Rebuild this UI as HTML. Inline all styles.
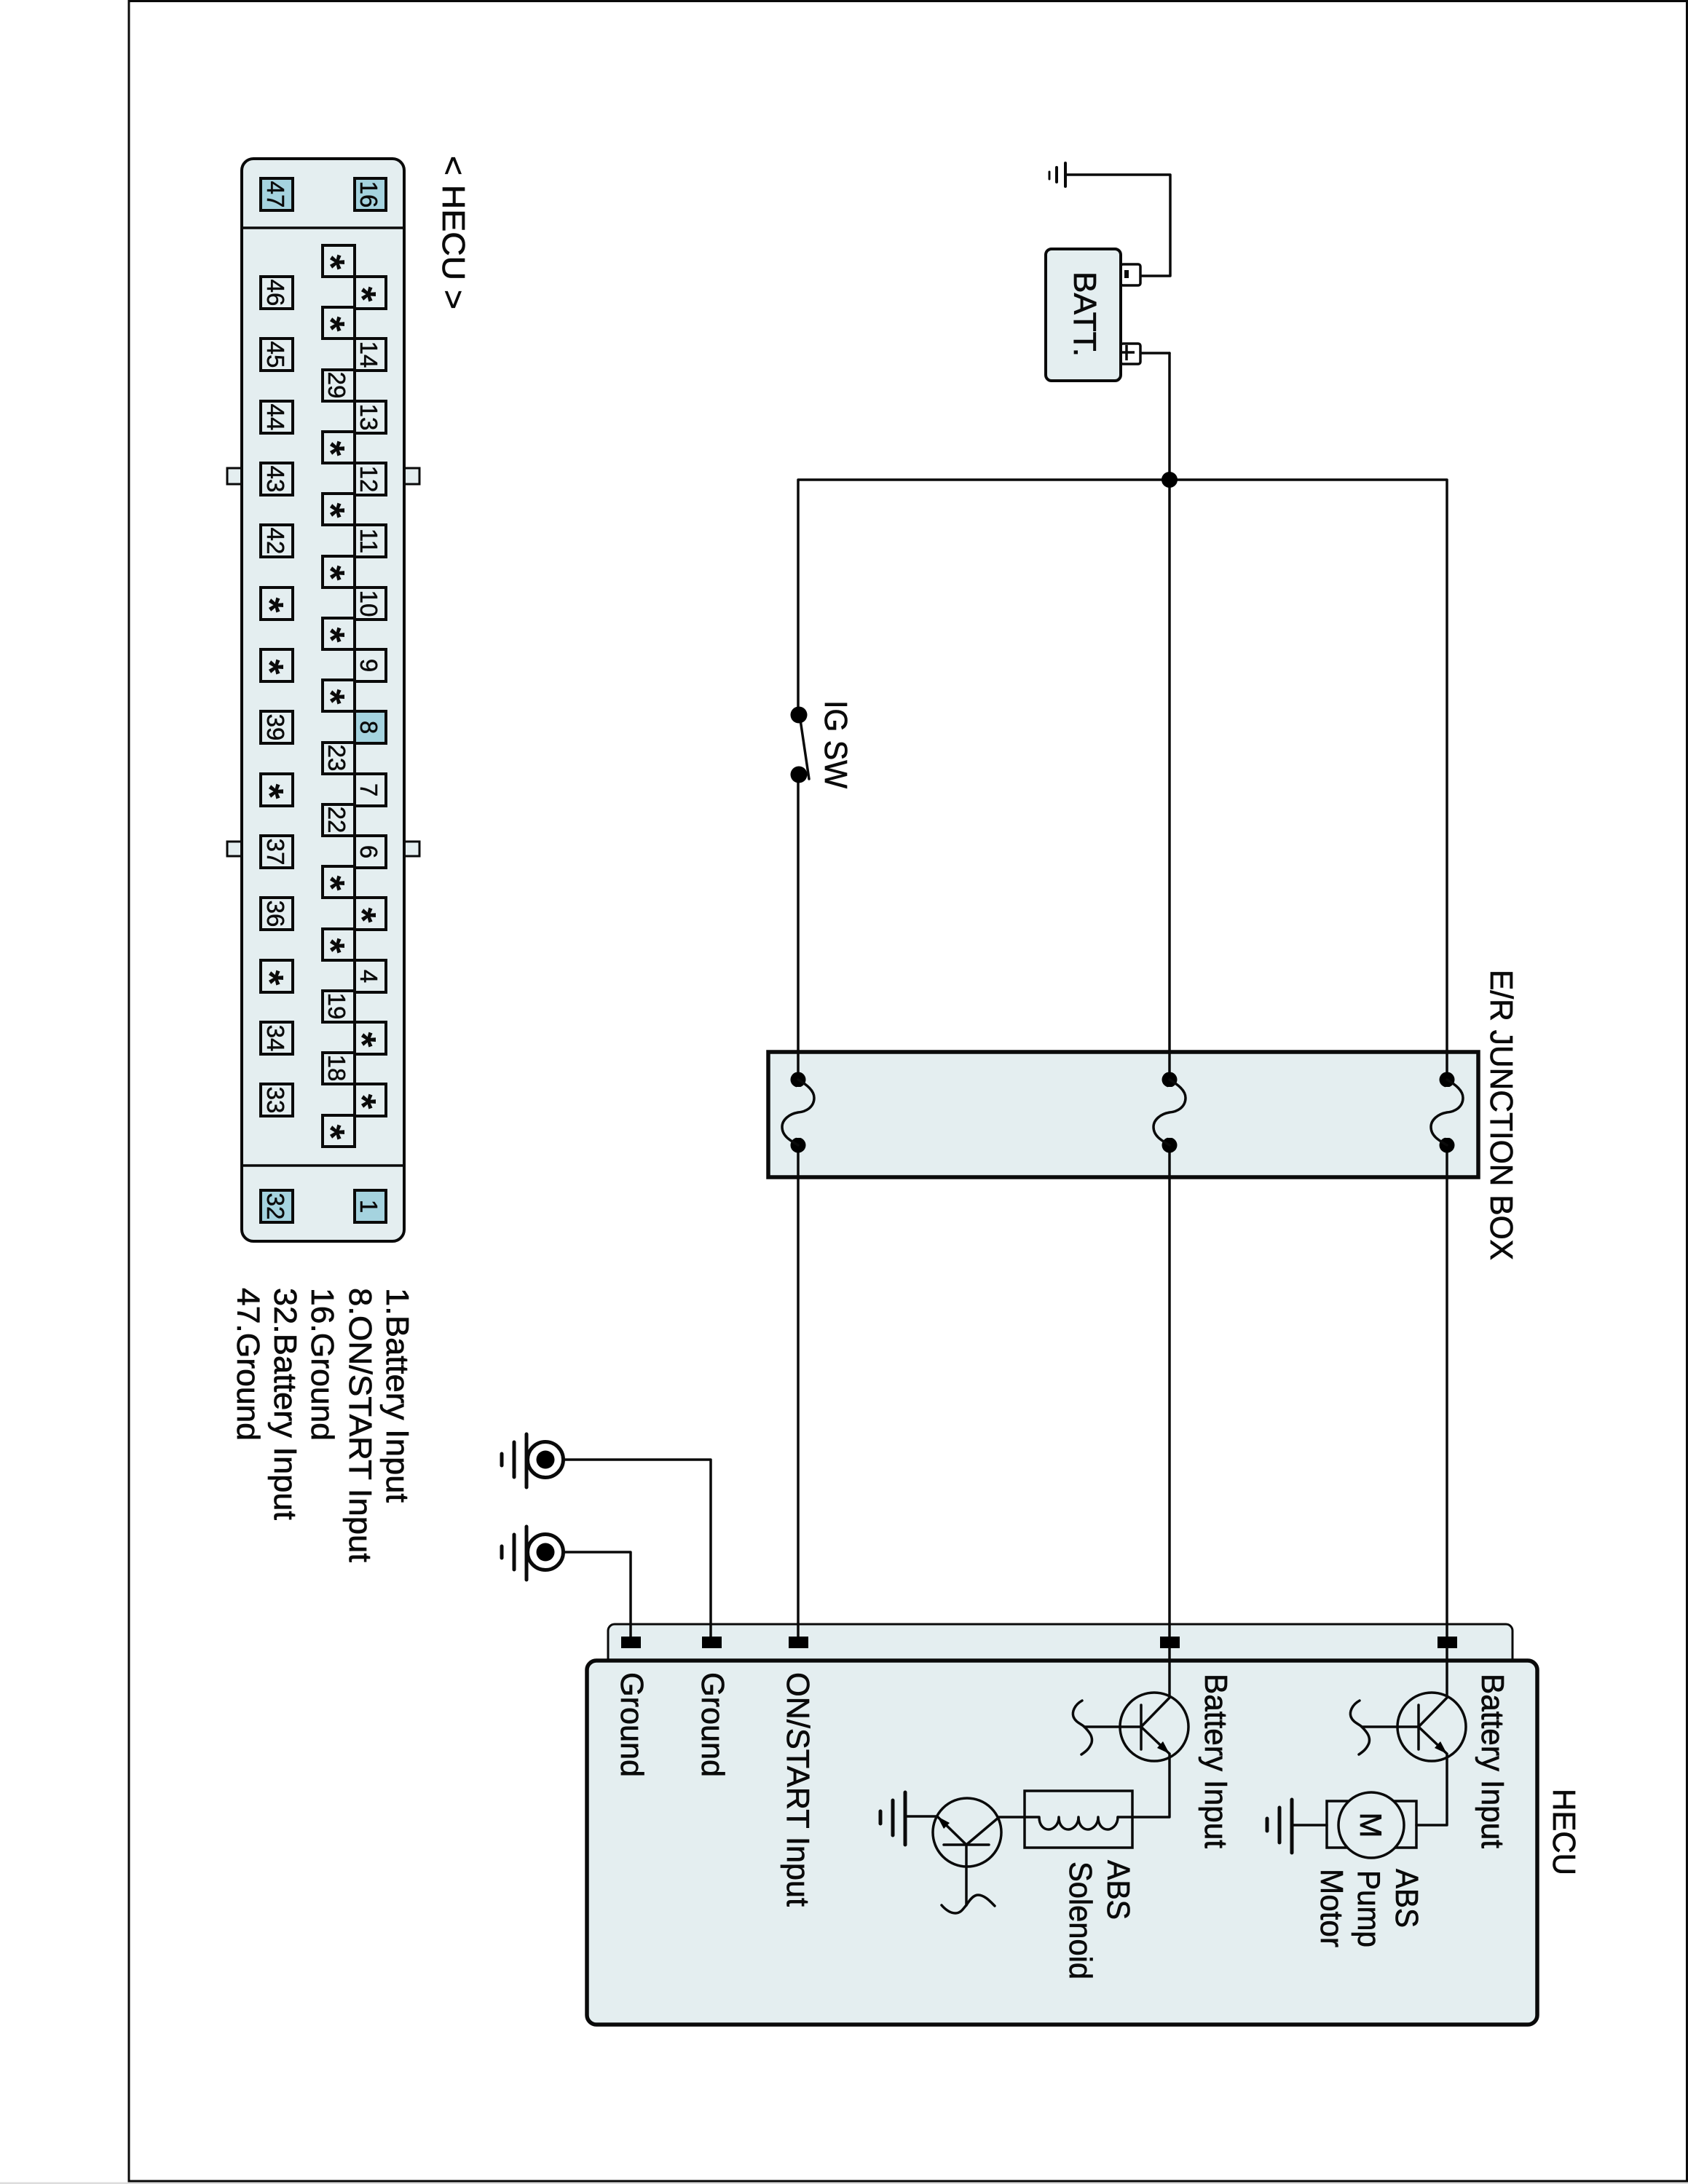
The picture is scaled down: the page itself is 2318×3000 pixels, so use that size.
<!DOCTYPE html>
<html><head><meta charset="utf-8"><style>
html,body{margin:0;padding:0;background:#fff}
svg{display:block}
text{font-family:"Liberation Sans",sans-serif;fill:#0a0a0a;stroke:#0a0a0a;stroke-width:.7}
.p{font-size:33px;text-anchor:middle;stroke-width:.5}
.s{font-size:54px;font-weight:bold;text-anchor:middle;stroke-width:0}
.l{font-size:44px}
.w{fill:none;stroke:#0a0a0a;stroke-width:3.5;stroke-linecap:round;stroke-linejoin:round}
.g{fill:none;stroke:#0a0a0a;stroke-width:5;stroke-linecap:round}
.f{fill:#e4eef0;stroke:#0a0a0a}
.pin rect{fill:#e4eef0;stroke:#0a0a0a;stroke-width:4}
rect.b{fill:#a5d3df!important}
</style></head><body>
<svg width="2318" height="3000" viewBox="0 0 2318 3000" xmlns="http://www.w3.org/2000/svg">
<rect width="2318" height="3000" fill="#fff"/>
<rect y="2997.5" width="2318" height="2.5" fill="#ddd"/>
<path d="M2316.5 1.5H177V2996H2316.5Z" fill="none" stroke="#0a0a0a" stroke-width="3"/>

<!-- connector -->
<rect class="f" stroke-width="3" x="312" y="643" width="22" height="22"/>
<rect class="f" stroke-width="3" x="553" y="643" width="23" height="22"/>
<rect class="f" stroke-width="3" x="312" y="1156" width="22" height="20"/>
<rect class="f" stroke-width="3" x="553" y="1156" width="23" height="20"/>
<rect class="f" stroke-width="4" x="332" y="218" width="223" height="1487" rx="16"/>
<path d="M332 313H555M332 1601H555" stroke="#0a0a0a" stroke-width="3.5" fill="none"/>
<g class="pin">
<rect class="b" x="358" y="245" width="44" height="44"/><rect class="b" x="487" y="245" width="43" height="44"/>
<rect x="358" y="380" width="44" height="44"/><rect x="358" y="465" width="44" height="44"/><rect x="358" y="551" width="44" height="44"/><rect x="358" y="636" width="44" height="44"/><rect x="358" y="721" width="44" height="44"/><rect x="358" y="807" width="44" height="44"/><rect x="358" y="892" width="44" height="44"/><rect x="358" y="977" width="44" height="44"/><rect x="358" y="1063" width="44" height="44"/><rect x="358" y="1148" width="44" height="44"/><rect x="358" y="1233" width="44" height="44"/><rect x="358" y="1319" width="44" height="44"/><rect x="358" y="1404" width="44" height="44"/><rect x="358" y="1489" width="44" height="44"/>
<rect class="b" x="358" y="1635" width="44" height="44"/><rect class="b" x="487" y="1635" width="43" height="44"/>
<rect x="443" y="337" width="44" height="43"/><rect x="443" y="422" width="44" height="43"/><rect x="443" y="508" width="44" height="43"/><rect x="443" y="593" width="44" height="43"/><rect x="443" y="678" width="44" height="43"/><rect x="443" y="764" width="44" height="43"/><rect x="443" y="849" width="44" height="43"/><rect x="443" y="934" width="44" height="43"/><rect x="443" y="1020" width="44" height="43"/><rect x="443" y="1105" width="44" height="43"/><rect x="443" y="1190" width="44" height="43"/><rect x="443" y="1276" width="44" height="43"/><rect x="443" y="1361" width="44" height="43"/><rect x="443" y="1446" width="44" height="43"/><rect x="443" y="1532" width="44" height="43"/>
<rect x="487" y="380" width="43" height="44"/><rect x="487" y="465" width="43" height="44"/><rect x="487" y="551" width="43" height="44"/><rect x="487" y="636" width="43" height="44"/><rect x="487" y="721" width="43" height="44"/><rect x="487" y="807" width="43" height="44"/><rect x="487" y="892" width="43" height="44"/><rect class="b" x="487" y="977" width="43" height="44"/><rect x="487" y="1063" width="43" height="44"/><rect x="487" y="1148" width="43" height="44"/><rect x="487" y="1233" width="43" height="44"/><rect x="487" y="1319" width="43" height="44"/><rect x="487" y="1404" width="43" height="44"/><rect x="487" y="1489" width="43" height="44"/>
</g>
<!-- pin labels -->
<text class="p" transform="translate(367 267) rotate(90)">47</text>
<text class="p" transform="translate(495 267) rotate(90)">16</text>
<text class="p" transform="translate(367 402) rotate(90)">46</text>
<text class="p" transform="translate(367 487) rotate(90)">45</text>
<text class="p" transform="translate(367 573) rotate(90)">44</text>
<text class="p" transform="translate(367 658) rotate(90)">43</text>
<text class="p" transform="translate(367 743) rotate(90)">42</text>
<text class="p" transform="translate(367 999) rotate(90)">39</text>
<text class="p" transform="translate(367 1170) rotate(90)">37</text>
<text class="p" transform="translate(367 1255) rotate(90)">36</text>
<text class="p" transform="translate(367 1426) rotate(90)">34</text>
<text class="p" transform="translate(367 1511) rotate(90)">33</text>
<text class="p" transform="translate(367 1657) rotate(90)">32</text>
<text class="p" transform="translate(495 1657) rotate(90)">1</text>
<text class="p" transform="translate(451 529) rotate(90)">29</text>
<text class="p" transform="translate(451 1041) rotate(90)">23</text>
<text class="p" transform="translate(451 1126) rotate(90)">22</text>
<text class="p" transform="translate(451 1382) rotate(90)">19</text>
<text class="p" transform="translate(451 1467) rotate(90)">18</text>
<text class="p" transform="translate(495 487) rotate(90)">14</text>
<text class="p" transform="translate(495 573) rotate(90)">13</text>
<text class="p" transform="translate(495 658) rotate(90)">12</text>
<text class="p" transform="translate(495 743) rotate(90)">11</text>
<text class="p" transform="translate(495 829) rotate(90)">10</text>
<text class="p" transform="translate(495 914) rotate(90)">9</text>
<text class="p" transform="translate(495 999) rotate(90)">8</text>
<text class="p" transform="translate(495 1085) rotate(90)">7</text>
<text class="p" transform="translate(495 1170) rotate(90)">6</text>
<text class="p" transform="translate(495 1341) rotate(90)">4</text>
<!-- asterisks -->
<text class="s" transform="translate(352 831) rotate(90)">*</text>
<text class="s" transform="translate(352 916) rotate(90)">*</text>
<text class="s" transform="translate(352 1087) rotate(90)">*</text>
<text class="s" transform="translate(352 1343) rotate(90)">*</text>
<text class="s" transform="translate(436 360) rotate(90)">*</text>
<text class="s" transform="translate(436 445) rotate(90)">*</text>
<text class="s" transform="translate(436 616) rotate(90)">*</text>
<text class="s" transform="translate(436 701) rotate(90)">*</text>
<text class="s" transform="translate(436 787) rotate(90)">*</text>
<text class="s" transform="translate(436 872) rotate(90)">*</text>
<text class="s" transform="translate(436 957) rotate(90)">*</text>
<text class="s" transform="translate(436 1213) rotate(90)">*</text>
<text class="s" transform="translate(436 1299) rotate(90)">*</text>
<text class="s" transform="translate(436 1555) rotate(90)">*</text>
<text class="s" transform="translate(479 404) rotate(90)">*</text>
<text class="s" transform="translate(479 1257) rotate(90)">*</text>
<text class="s" transform="translate(479 1428) rotate(90)">*</text>
<text class="s" transform="translate(479 1513) rotate(90)">*</text>

<!-- connector titles / legend -->
<text class="l" transform="translate(608 214) rotate(90)" textLength="211" lengthAdjust="spacingAndGlyphs">&lt; HECU &gt;</text>
<text class="l" transform="translate(531 1769) rotate(90)" textLength="295" lengthAdjust="spacingAndGlyphs">1.Battery Input</text>
<text class="l" transform="translate(480 1769) rotate(90)" textLength="377" lengthAdjust="spacingAndGlyphs">8.ON/START Input</text>
<text class="l" transform="translate(428 1769) rotate(90)" textLength="210" lengthAdjust="spacingAndGlyphs">16.Ground</text>
<text class="l" transform="translate(377 1769) rotate(90)" textLength="319" lengthAdjust="spacingAndGlyphs">32.Battery Input</text>
<text class="l" transform="translate(326 1769) rotate(90)" textLength="210" lengthAdjust="spacingAndGlyphs">47.Ground</text>

<!-- junction box -->
<rect x="1055" y="1445" width="975" height="172" fill="#e4eef0" stroke="#0a0a0a" stroke-width="5.5"/>
<text class="l" transform="translate(2047 1332) rotate(90)" textLength="399" lengthAdjust="spacingAndGlyphs">E/R JUNCTION BOX</text>

<!-- HECU -->
<rect class="f" stroke-width="3" x="835" y="2231" width="1242" height="80" rx="9"/>
<rect class="f" stroke-width="5.5" x="806" y="2281" width="1305" height="500" rx="13"/>

<!-- main wires -->
<path class="w" d="M1096 659H1987V2248M1096 659V982M1096 1064V2248M1606 485V2248"/>
<path class="w" d="M1566 379H1607V240H1463M1566 485H1606"/>
<path class="w" d="M1098 982L1111 1070"/>
<circle cx="1606" cy="659" r="11"/><circle cx="1097" cy="982" r="11.5"/><circle cx="1097" cy="1064" r="11.5"/>
<text class="l" transform="translate(1133 962) rotate(90)" textLength="121" lengthAdjust="spacingAndGlyphs">IG SW</text>

<!-- fuses -->
<circle cx="1096" cy="1483" r="10.5"/><circle cx="1096" cy="1573" r="10.5"/>
<circle cx="1606" cy="1483" r="10.5"/><circle cx="1606" cy="1573" r="10.5"/>
<circle cx="1987" cy="1483" r="10.5"/><circle cx="1987" cy="1573" r="10.5"/>
<rect x="1094" y="1493" width="5" height="70" fill="#e4eef0"/><rect x="1604" y="1493" width="5" height="70" fill="#e4eef0"/><rect x="1985" y="1493" width="5" height="70" fill="#e4eef0"/>
<path class="w" d="M1096 1483C1108 1490 1118 1498 1118 1508C1118 1520 1108 1527 1096 1528C1084 1530 1074 1538 1074 1548C1074 1560 1084 1566 1096 1573"/>
<path class="w" d="M1606 1483C1618 1490 1628 1498 1628 1508C1628 1520 1618 1527 1606 1528C1594 1530 1584 1538 1584 1548C1584 1560 1594 1566 1606 1573"/>
<path class="w" d="M1987 1483C1999 1490 2009 1498 2009 1508C2009 1520 1999 1527 1987 1528C1975 1530 1965 1538 1965 1548C1965 1560 1975 1566 1987 1573"/>

<!-- battery -->
<rect x="1539" y="363" width="27" height="29" rx="3" fill="#fff" stroke="#0a0a0a" stroke-width="3.5"/>
<rect x="1539" y="472" width="27" height="28" rx="3" fill="#fff" stroke="#0a0a0a" stroke-width="3.5"/>
<rect class="f" stroke-width="4" x="1436" y="342" width="103" height="181" rx="8"/>
<rect x="1544" y="371" width="6" height="11" fill="#0a0a0a"/>
<path d="M1537 484H1558M1547 474V495" stroke="#0a0a0a" stroke-width="3.5" fill="none"/>
<text class="l" transform="translate(1475 373) rotate(90)" textLength="117" lengthAdjust="spacingAndGlyphs">BATT.</text>
<path class="g" style="stroke-width:4" d="M1463 224V256M1451 230V250"/>
<path class="g" style="stroke-width:3" d="M1441 236V246"/>

<!-- external grounds -->
<path class="g" d="M723 1970V2043M706 1981V2029M689 1997V2013"/>
<circle cx="749" cy="2005" r="24.5" fill="#fff" stroke="#0a0a0a" stroke-width="5"/><circle cx="749" cy="2005" r="12.5"/>
<path class="g" d="M723 2097V2170M706 2108V2156M689 2124V2140"/>
<circle cx="749" cy="2132" r="24.5" fill="#fff" stroke="#0a0a0a" stroke-width="5"/><circle cx="749" cy="2132" r="12.5"/>
<path class="w" d="M776 2005H976V2248M776 2132H866V2248"/>

<!-- terminals -->
<rect x="853" y="2248" width="27" height="16"/><rect x="964" y="2248" width="27" height="16"/><rect x="1083" y="2248" width="27" height="16"/><rect x="1593" y="2248" width="27" height="16"/><rect x="1974" y="2248" width="27" height="16"/>

<!-- right transistor + motor -->
<path class="w" d="M1987 2264V2332M1987 2409V2507H1945M1987 2332L1948 2372L1987 2409M1948 2342V2403M1948 2372H1870"/>
<path class="w" d="M1867 2336C1856 2342 1853 2352 1855 2358C1858 2366 1866 2368 1870 2372C1878 2380 1882 2386 1880 2394C1877 2402 1872 2406 1866 2410"/>
<circle cx="1966" cy="2372" r="47" fill="none" stroke="#0a0a0a" stroke-width="3.5"/>
<path d="M1987 2409L1978 2392L1970 2401Z"/>
<rect x="1822" y="2474" width="123" height="64" fill="none" stroke="#0a0a0a" stroke-width="3.5"/>
<circle cx="1883" cy="2507" r="45" fill="#e4eef0" stroke="#0a0a0a" stroke-width="3.5"/>
<text class="l" transform="translate(1868 2507) rotate(90)" style="font-size:42px;text-anchor:middle">M</text>
<path class="w" d="M1822 2507H1774"/>
<path class="g" d="M1774 2472V2545M1757 2483V2531M1740 2498V2515"/>

<!-- left transistor + solenoid -->
<path class="w" d="M1606 2264V2332M1606 2409V2496H1535M1606 2332L1567 2372L1606 2409M1567 2342V2403M1567 2372H1489"/>
<path class="w" d="M1486 2336C1475 2342 1472 2352 1474 2358C1477 2366 1485 2368 1489 2372C1497 2380 1501 2386 1499 2394C1496 2402 1491 2406 1485 2410"/>
<circle cx="1585" cy="2372" r="47" fill="none" stroke="#0a0a0a" stroke-width="3.5"/>
<path d="M1606 2409L1597 2392L1589 2401Z"/>
<rect x="1407" y="2460" width="148" height="78" fill="none" stroke="#0a0a0a" stroke-width="3.5"/>
<path class="w" d="M1535 2496C1535 2508 1526 2513 1521 2513C1515 2513 1508 2508 1508 2496C1508 2508 1499 2513 1494 2513C1488 2513 1481 2508 1481 2496C1481 2508 1472 2513 1467 2513C1461 2513 1454 2508 1454 2496C1454 2508 1445 2513 1440 2513C1434 2513 1427 2508 1427 2496H1372L1327 2534L1287 2495H1243"/>
<circle cx="1328" cy="2517" r="47" fill="none" stroke="#0a0a0a" stroke-width="3.5"/>
<path d="M1287 2495L1304 2504L1296 2512Z"/>
<path class="w" d="M1296 2534H1358M1327 2534V2617"/>
<path class="w" d="M1293 2617C1300 2625 1306 2628 1312 2628C1320 2628 1323 2621 1327 2617C1332 2609 1337 2603 1343 2603C1352 2603 1360 2612 1366 2618"/>
<path class="g" d="M1243 2462V2534M1226 2473V2521M1209 2488V2505"/>

<!-- HECU labels -->
<text class="l" transform="translate(2133 2457) rotate(90)" textLength="119" lengthAdjust="spacingAndGlyphs">HECU</text>
<text class="l" transform="translate(2035 2299) rotate(90)" textLength="240" lengthAdjust="spacingAndGlyphs">Battery Input</text>
<text class="l" transform="translate(1655 2299) rotate(90)" textLength="240" lengthAdjust="spacingAndGlyphs">Battery Input</text>
<text class="l" transform="translate(1917 2567) rotate(90)" textLength="81" lengthAdjust="spacingAndGlyphs">ABS</text>
<text class="l" transform="translate(1865 2569) rotate(90)" textLength="106" lengthAdjust="spacingAndGlyphs">Pump</text>
<text class="l" transform="translate(1814 2567) rotate(90)" textLength="108" lengthAdjust="spacingAndGlyphs">Motor</text>
<text class="l" transform="translate(1521 2555) rotate(90)" textLength="82" lengthAdjust="spacingAndGlyphs">ABS</text>
<text class="l" transform="translate(1469 2557) rotate(90)" textLength="162" lengthAdjust="spacingAndGlyphs">Solenoid</text>
<text class="l" transform="translate(853 2297) rotate(90)" textLength="144" lengthAdjust="spacingAndGlyphs">Ground</text>
<text class="l" transform="translate(964 2297) rotate(90)" textLength="144" lengthAdjust="spacingAndGlyphs">Ground</text>
<text class="l" transform="translate(1081 2297) rotate(90)" textLength="322" lengthAdjust="spacingAndGlyphs">ON/START Input</text>
</svg>
</body></html>
